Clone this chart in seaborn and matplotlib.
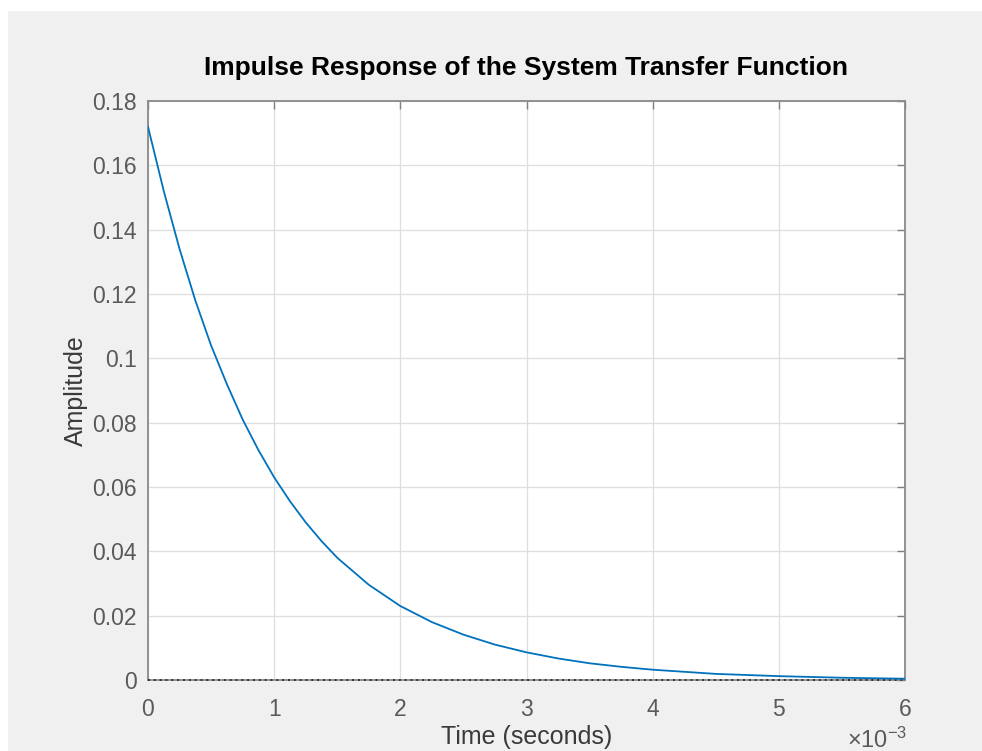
import matplotlib
matplotlib.use("Agg")
import matplotlib.pyplot as plt
import numpy as np
import pandas as pd
import seaborn as sns
from matplotlib.patches import Rectangle

# values (time in units of 1e-3 s)
time_ms = [0, 0.125, 0.25, 0.375, 0.5, 0.625, 0.75, 0.875, 1.0, 1.125, 1.25, 1.375, 1.5,
           1.75, 2.0, 2.25, 2.5, 2.75, 3.0, 3.25, 3.5, 3.75, 4.0, 4.5, 5.0, 5.5, 6.0]
amplitude = [0.172, 0.152, 0.134, 0.118, 0.104, 0.092, 0.081, 0.0715, 0.063, 0.0556, 0.049,
             0.0432, 0.038, 0.0296, 0.023, 0.0180, 0.0141, 0.0110, 0.0086, 0.0067, 0.0052,
             0.0041, 0.0032, 0.0019, 0.0012, 0.0007, 0.0004]
xticks = [0, 1, 2, 3, 4, 5, 6]
yticks = [0, 0.02, 0.04, 0.06, 0.08, 0.1, 0.12, 0.14, 0.16, 0.18]
ytick_labels = ["0", "0.02", "0.04", "0.06", "0.08", "0.1", "0.12", "0.14", "0.16", "0.18"]

df = pd.DataFrame({"t": time_ms, "y": amplitude})

sns.set_style("white")
plt.rcParams["font.family"] = ["Liberation Sans", "DejaVu Sans"]
plt.rcParams["mathtext.fontset"] = "custom"
plt.rcParams["mathtext.rm"] = "Liberation Sans"
plt.rcParams["mathtext.it"] = "Liberation Sans:italic"

fig = plt.figure(figsize=(9.82, 7.51), dpi=100, facecolor="white")
# matlab grey window area
fig.patches.append(Rectangle((8 / 982, 0), 1, 1 - 11 / 751, transform=fig.transFigure,
                             facecolor="#f0f0f0", edgecolor="none", zorder=-10))
ax = fig.add_axes([148 / 982, 1 - 680 / 751, (905 - 148) / 982, (680 - 101) / 751])
ax.set_facecolor("white")

sns.lineplot(data=df, x="t", y="y", ax=ax, color="#0072BD", linewidth=1.3, zorder=4)
# zero line drawn dotted over the bottom spine
ax.axhline(0, color="#333333", linestyle=(0, (1, 2)), linewidth=1.4, zorder=3,
           clip_on=False)

ax.set_xlim(0, 6)
ax.set_ylim(0, 0.18)
ax.set_xticks(xticks)
ax.set_yticks(yticks)
ax.set_yticklabels(ytick_labels)
ax.grid(True, color="#dedede", linewidth=0.9)
ax.tick_params(direction="in", length=6, width=1, colors="#808080", labelcolor="#5a5a5a",
               labelsize=16.5, top=True, right=True)
ax.tick_params(axis="x", pad=13)
ax.tick_params(axis="y", pad=8)
for s in ax.spines.values():
    s.set_color("#8a8a8a")
    s.set_linewidth(1.3)

ax.set_title("Impulse Response of the System Transfer Function", fontsize=19,
             fontweight="bold", color="black", pad=19)
ax.set_xlabel("Time (seconds)", fontsize=18, color="#3a3a3a", labelpad=3)
ax.set_ylabel("Amplitude", fontsize=18, color="#3a3a3a", labelpad=3)
fig.text(877 / 982, 1 - 740 / 751, r"$\times$10$^{-3}$", fontsize=17, color="#5a5a5a",
         ha="center", va="center")

fig.savefig("out.png", dpi=100, facecolor=fig.get_facecolor())
